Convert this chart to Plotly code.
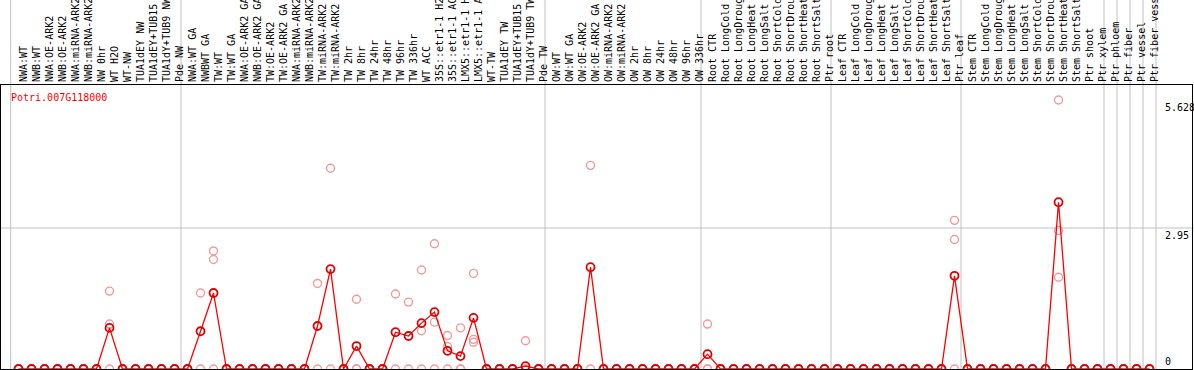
import plotly.graph_objects as go

# ---------------- data ----------------
gene_id = "Potri.007G118000"

labels_nw = ["NWA:WT", "NWB:WT", "NWA:OE-ARK2", "NWB:OE-ARK2", "NWA:miRNA-ARK2",
             "NWB:miRNA-ARK2", "NW 0hr", "WT H2O", "WT-NW", "TUA1dEY NW",
             "TUA1dEY+TUB15", "TUA1dY+TUB9 NW", "Pde NW"]
labels_tw = ["NWA:WT GA", "NWBWT GA", "TW:WT", "TW:WT GA", "NWA:OE-ARK2 GA",
             "NWB:OE-ARK2 GA", "TW:OE-ARK2", "TW:OE-ARK2 GA", "NWA:miRNA-ARK2",
             "NWB:miRNA-ARK2", "TW:miRNA-ARK2", "TW:miRNA-ARK2", "TW 2hr", "TW 8hr",
             "TW 24hr", "TW 48hr", "TW 96hr", "TW 336hr", "WT ACC", "35S::etr1-1 H2",
             "35S::etr1-1 AC", "LMX5::etr1-1 H", "LMX5::etr1-1 A", "WT-TW",
             "TUA1dEY TW", "TUA1dEY+TUB15", "TUA1dY+TUB9 TW", "Pde TW"]
labels_ow = ["OW:WT", "OW:WT GA", "OW:OE-ARK2", "OW:OE-ARK2 GA", "OW:miRNA-ARK2",
             "OW:miRNA-ARK2", "OW 2hr", "OW 8hr", "OW 24hr", "OW 48hr", "OW 96hr",
             "OW 336hr"]
labels_root = ["Root CTR", "Root LongCold", "Root LongDroug", "Root LongHeat",
               "Root LongSalt", "Root ShortCold", "Root ShortDrou", "Root ShortHeat",
               "Root ShortSalt", "Ptr root"]
labels_leaf = ["Leaf CTR", "Leaf LongCold", "Leaf LongDroug", "Leaf LongHeat",
               "Leaf LongSalt", "Leaf ShortCold", "Leaf ShortDrou", "Leaf ShortHeat",
               "Leaf ShortSalt", "Ptr leaf"]
labels_stem = ["Stem CTR", "Stem LongCold", "Stem LongDroug", "Stem LongHeat",
               "Stem LongSalt", "Stem ShortCold", "Stem ShortDrou", "Stem ShortHeat",
               "Stem ShortSalt", "Ptr shoot", "Ptr xylem"]
labels_ptr = ["Ptr phloem", "Ptr fiber", "Ptr vessel", "Ptr fiber vess"]

mean_nw = [0, 0, 0, 0, 0, 0, 0, 0.86, 0, 0, 0, 0, 0]
mean_tw = [0, 0.79, 1.59, 0, 0, 0, 0, 0, 0, 0, 0.90, 2.09, 0, 0.48, 0, 0, 0.77,
           0.69, 0.96, 1.19, 0.38, 0.27, 1.07, 0, 0, 0, 0.06, 0]
mean_ow = [0, 0, 0, 2.13, 0, 0, 0, 0, 0, 0, 0, 0]
mean_root = [0.31, 0, 0, 0, 0, 0, 0, 0, 0, 0]
mean_leaf = [0, 0, 0, 0, 0, 0, 0, 0, 0, 1.95]
mean_stem = [0, 0, 0, 0, 0, 0, 0, 3.49, 0, 0, 0]
mean_ptr = [0, 0, 0, 0]

N = None
rep_a_nw = [0, 0, 0, 0, 0, 0, 0, 1.63, 0, 0, 0, 0, 0]
rep_b_nw = [0, 0, 0, 0, 0, 0, 0, 0.94, 0, 0, 0, 0, 0]
rep_c_nw = [0, 0, 0, 0, 0, 0, 0, 0, 0, 0, 0, 0, 0]
rep_a_tw = [0, 1.59, 2.47, 0, 0, 0, 0, 0, 0, 0, 1.79, 4.20, 0, 1.46, 0, 0, 1.57,
            1.40, 2.07, 2.62, 0.70, 0.86, 2.00, 0, 0, 0, 0.59, 0]
rep_b_tw = [0, 0, 2.29, 0, 0, 0, 0, 0, 0, 0, 0, 0, 0, 0, 0, 0, 0,
            0, 0.80, 0.98, 0.47, 0, 0.62, 0, 0, 0, 0, 0]
rep_c_tw = [0, N, 0, 0, 0, 0, 0, 0, 0, 0, N, N, 0, 0, 0, 0, N,
            N, 0, 0, 0, 0, 0.56, 0, 0, 0, 0, 0]
rep_a_ow = [0, 0, 0, 4.26, 0, 0, 0, 0, 0, 0, 0, 0]
rep_b_ow = [0, 0, 0, 0, 0, 0, 0, 0, 0, 0, 0, 0]
rep_c_ow = [0, 0, 0, N, 0, 0, 0, 0, 0, 0, 0, 0]
rep_a_root = [0.94, 0, 0, 0, 0, 0, 0, 0, 0, 0]
rep_b_root = [0, 0, 0, 0, 0, 0, 0, 0, 0, 0]
rep_c_root = [0, 0, 0, 0, 0, 0, 0, 0, 0, 0]
rep_a_leaf = [0, 0, 0, 0, 0, 0, 0, 0, 0, 3.11]
rep_b_leaf = [0, 0, 0, 0, 0, 0, 0, 0, 0, 2.71]
rep_c_leaf = [0, 0, 0, 0, 0, 0, 0, 0, 0, 0]
rep_a_stem = [0, 0, 0, 0, 0, 0, 0, 5.628, 0, 0, 0]
rep_b_stem = [0, 0, 0, 0, 0, 0, 0, 2.90, 0, 0, 0]
rep_c_stem = [0, 0, 0, 0, 0, 0, 0, 1.92, 0, 0, 0]
rep_a_ptr = [0, 0, 0, 0]
rep_b_ptr = [0, 0, 0, 0]
rep_c_ptr = [0, 0, 0, 0]

y_axis_marks = [5.628, 2.95, 0]

# ---------------- assemble ----------------
groups = [labels_nw, labels_tw, labels_ow, labels_root, labels_leaf, labels_stem,
          ["Ptr phloem"], ["Ptr fiber"], ["Ptr vessel"], ["Ptr fiber vess"]]
labels = labels_nw + labels_tw + labels_ow + labels_root + labels_leaf + labels_stem + labels_ptr
means = mean_nw + mean_tw + mean_ow + mean_root + mean_leaf + mean_stem + mean_ptr
rep_a = rep_a_nw + rep_a_tw + rep_a_ow + rep_a_root + rep_a_leaf + rep_a_stem + rep_a_ptr
rep_b = rep_b_nw + rep_b_tw + rep_b_ow + rep_b_root + rep_b_leaf + rep_b_stem + rep_b_ptr
rep_c = rep_c_nw + rep_c_tw + rep_c_ow + rep_c_root + rep_c_leaf + rep_c_stem + rep_c_ptr
xs = list(range(len(labels)))

rx, ry = [], []
for reps in (rep_a, rep_b, rep_c):
    for i, v in enumerate(reps):
        if v is not None:
            rx.append(i)
            ry.append(v)

W, H = 1194, 370
ML, MR, MT, MB = 1, 2, 85, 1
plot_w = W - ML - MR
plot_h = H - MT - MB
step_px = 13.0
first_px = 18.5
x0 = -(first_px - ML) / step_px
x1 = x0 + plot_w / step_px
ymax = plot_h / 47.8

MONO = "DejaVu Sans Mono"
GRID = "#c0c0c0"

fig = go.Figure()
fig.add_trace(go.Scatter(
    x=rx, y=ry, mode="markers",
    marker=dict(symbol="circle-open", size=8, color="#f09a9a", line=dict(width=1.4, color="#f09a9a")),
    hoverinfo="skip", showlegend=False))
fig.add_trace(go.Scatter(
    x=xs, y=means, mode="lines+markers",
    line=dict(color="#ff0000", width=1.3),
    marker=dict(symbol="circle-open", size=8, color="#e00000", line=dict(width=1.8, color="#e00000")),
    showlegend=False))

shapes = []
# vertical group separators
bounds = [-0.6]
c = 0
for g in groups:
    c += len(g)
    bounds.append(c - 0.5)
top_ext = 1 + (MT + 2) / plot_h
for b in bounds:
    shapes.append(dict(type="line", xref="x", yref="paper", x0=b, x1=b, y0=-0.01, y1=top_ext,
                       line=dict(color=GRID, width=1), layer="below"))
# horizontal reference line
shapes.append(dict(type="line", xref="paper", yref="y", x0=-0.01, x1=1.01, y0=2.95, y1=2.95,
                   line=dict(color=GRID, width=1), layer="below"))

annotations = [dict(text=gene_id, xref="paper", yref="paper", x=(9 - ML) / plot_w,
                    y=(H - MB - 97) / plot_h, xanchor="left", yanchor="middle",
                    showarrow=False, font=dict(family=MONO, size=10, color="#ff0000"))]
label_x = (1163 - ML) / plot_w
for v in y_axis_marks:
    annotations.append(dict(text=("%g" % v), xref="paper", yref="y", x=label_x, y=v,
                            xanchor="left", yanchor=("bottom" if v == 0 else "top"),
                            showarrow=False, font=dict(family=MONO, size=10, color="black")))

fig.update_layout(
    width=W, height=H,
    margin=dict(l=ML, r=MR, t=MT, b=MB, pad=0),
    paper_bgcolor="white", plot_bgcolor="white",
    shapes=shapes, annotations=annotations,
    xaxis=dict(range=[x0, x1], side="top", tickmode="array", tickvals=xs, ticktext=labels,
               tickangle=-90, ticks="", showgrid=False, zeroline=False,
               showline=True, mirror=True, linecolor="black", linewidth=1,
               ticklabelshift=5, ticklabelstandoff=0,
               tickfont=dict(family=MONO, size=10, color="black"), automargin=False),
    yaxis=dict(range=[0, ymax], showticklabels=False, showgrid=False, zeroline=False,
               showline=True, mirror=True, linecolor="black", linewidth=1, ticks="",
               automargin=False),
    font=dict(family=MONO, size=10),
)

fig.write_html("out.html",
               config={"displayModeBar": False},
               post_script="document.body.style.margin='0px';document.body.style.overflow='hidden';")
